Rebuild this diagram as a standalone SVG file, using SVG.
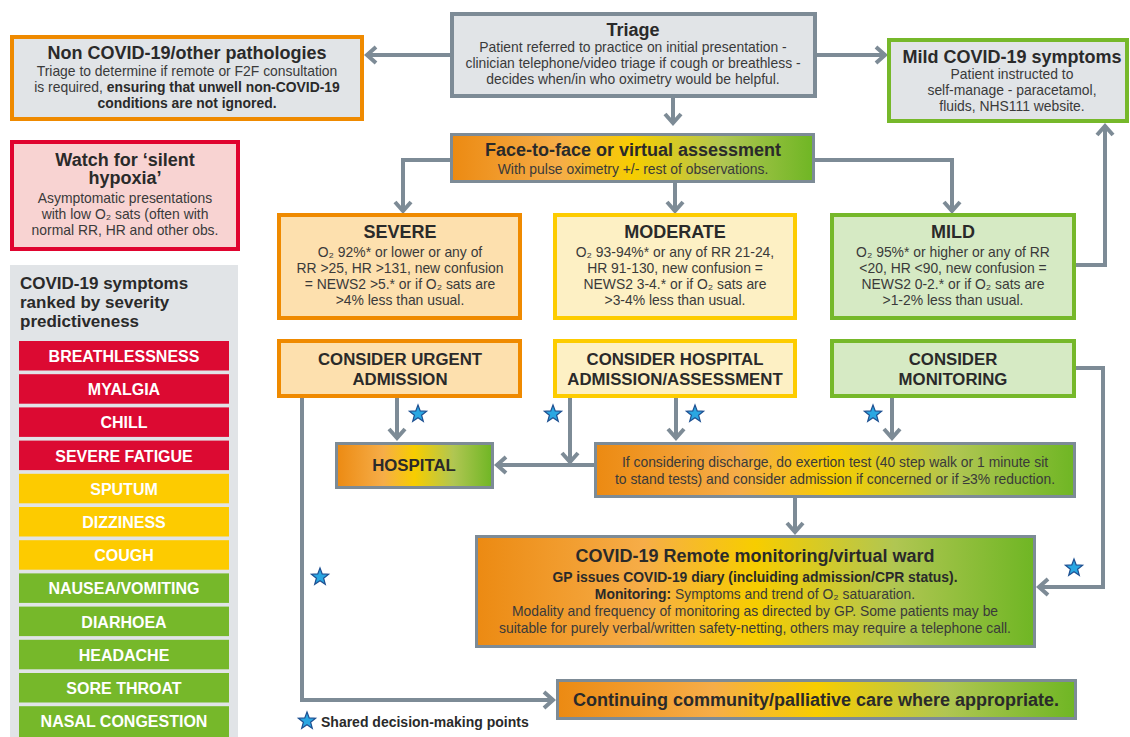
<svg xmlns="http://www.w3.org/2000/svg" width="1130" height="737" viewBox="0 0 1130 737">
<style>
text{font-family:"Liberation Sans",Arial,sans-serif;fill:#2a2a2a}
.t{font-weight:bold;font-size:18px;text-anchor:middle}
.b{font-size:13.9px;text-anchor:middle;fill:#3a3a3a}
.bb{font-weight:bold;fill:#2a2a2a}
.c{font-weight:bold;font-size:16.8px;text-anchor:middle}
.sym{font-weight:bold;font-size:16px;text-anchor:middle;fill:#fff}
.con{fill:none;stroke:#7d8b96;stroke-width:4;marker-end:url(#ah)}
.grey{fill:#e1e4e7;stroke:#7d8b96;stroke-width:4}
.or{fill:#fde0ae;stroke:#ef8a00;stroke-width:4}
.ye{fill:#fdf0c4;stroke:#fdcc00;stroke-width:4}
.gr{fill:#d6eac4;stroke:#76b82a;stroke-width:4}
.grad{fill:url(#g);stroke:#7d8b96;stroke-width:3}
.star{fill:#2aa7e2;stroke:#1d4f91;stroke-width:1.2}
</style>
<defs>
<linearGradient id="g" x1="0" y1="0" x2="1" y2="0">
<stop offset="0" stop-color="#ec8a12"/>
<stop offset="0.3" stop-color="#f6ad48"/>
<stop offset="0.5" stop-color="#f7cd00"/>
<stop offset="0.75" stop-color="#b0c652"/>
<stop offset="1" stop-color="#6fb624"/>
</linearGradient>
<marker id="ah" markerWidth="18" markerHeight="20" refX="13" refY="10" orient="auto" markerUnits="userSpaceOnUse">
<path d="M4,2 L13,10 L4,18" fill="none" stroke="#7d8b96" stroke-width="4"/>
</marker>
<path id="st" d="M0,-9 L2.23,-3.07 L8.56,-2.78 L3.61,1.17 L5.29,7.28 L0,3.8 L-5.29,7.28 L-3.61,1.17 L-8.56,-2.78 L-2.23,-3.07 Z"/>
</defs>

<g id="connectors">
<path class="con" d="M450,55 H367"/>
<path class="con" d="M817,55 H885"/>
<path class="con" d="M673,98 V123"/>
<path class="con" d="M450,160 H403 V211"/>
<path class="con" d="M675,182 V211"/>
<path class="con" d="M815,160 H952 V211"/>
<path class="con" d="M1075,265 H1105 V126"/>
<path class="con" d="M397,398 V438"/>
<path class="con" d="M302,398 V700 H553"/>
<path class="con" d="M570,398 V462"/>
<path class="con" d="M676,398 V438"/>
<path class="con" d="M594,465 H497"/>
<path class="con" d="M892,398 V438"/>
<path class="con" d="M1076,368 H1103 V587 H1039"/>
<path class="con" d="M795,498 V532"/>
</g>

<g id="non-covid">
<rect class="grey" x="12" y="37" width="350" height="82" style="stroke:#ef8a00"/>
<text class="t" x="187" y="59">Non COVID-19/other pathologies</text>
<text class="b" x="187" y="76">Triage to determine if remote or F2F consultation</text>
<text class="b" x="187" y="92">is required, <tspan class="bb">ensuring that unwell non-COVID-19</tspan></text>
<text class="b bb" x="187" y="108">conditions are not ignored.</text>
</g>

<g id="triage">
<rect class="grey" x="452" y="14" width="363" height="82"/>
<text class="t" x="633" y="36">Triage</text>
<text class="b" x="633" y="52">Patient referred to practice on initial presentation -</text>
<text class="b" x="633" y="68">clinician telephone/video triage if cough or breathless -</text>
<text class="b" x="633" y="84">decides when/in who oximetry would be helpful.</text>
</g>

<g id="mild-covid">
<rect class="grey" x="889" y="40" width="238" height="81" style="stroke:#76b82a"/>
<text class="t" x="1012" y="63">Mild COVID-19 symptoms</text>
<text class="b" x="1012" y="79">Patient instructed to</text>
<text class="b" x="1012" y="95">self-manage - paracetamol,</text>
<text class="b" x="1012" y="111">fluids, NHS111 website.</text>
</g>

<g id="silent-hypoxia">
<rect x="12" y="142" width="226" height="107" fill="#f8d3d2" stroke="#e0042f" stroke-width="4"/>
<text class="t" x="125" y="166">Watch for ‘silent</text>
<text class="t" x="125" y="184">hypoxia’</text>
<text class="b" x="125" y="203">Asymptomatic presentations</text>
<text class="b" x="125" y="219">with low O₂ sats (often with</text>
<text class="b" x="125" y="235">normal RR, HR and other obs.</text>
</g>

<g id="symptoms">
<rect x="10" y="265" width="228" height="472" fill="#e1e4e7"/>
<text x="20" y="289" style="font-weight:bold;font-size:17px">COVID-19 symptoms</text>
<text x="20" y="308" style="font-weight:bold;font-size:17px">ranked by severity</text>
<text x="20" y="327" style="font-weight:bold;font-size:17px">predictiveness</text>
<rect x="19" y="341" width="210" height="29.5" fill="#dc0a32"/><text class="sym" x="124" y="362">BREATHLESSNESS</text>
<rect x="19" y="374.2" width="210" height="29.5" fill="#dc0a32"/><text class="sym" x="124" y="395.2">MYALGIA</text>
<rect x="19" y="407.4" width="210" height="29.5" fill="#dc0a32"/><text class="sym" x="124" y="428.4">CHILL</text>
<rect x="19" y="440.6" width="210" height="29.5" fill="#dc0a32"/><text class="sym" x="124" y="461.6">SEVERE FATIGUE</text>
<rect x="19" y="473.8" width="210" height="29.5" fill="#fdcb00"/><text class="sym" x="124" y="494.8">SPUTUM</text>
<rect x="19" y="507" width="210" height="29.5" fill="#fdcb00"/><text class="sym" x="124" y="528">DIZZINESS</text>
<rect x="19" y="540.2" width="210" height="29.5" fill="#fdcb00"/><text class="sym" x="124" y="561.2">COUGH</text>
<rect x="19" y="573.4" width="210" height="29.5" fill="#76b82a"/><text class="sym" x="124" y="594.4">NAUSEA/VOMITING</text>
<rect x="19" y="606.6" width="210" height="29.5" fill="#76b82a"/><text class="sym" x="124" y="627.6">DIARHOEA</text>
<rect x="19" y="639.8" width="210" height="29.5" fill="#76b82a"/><text class="sym" x="124" y="660.8">HEADACHE</text>
<rect x="19" y="673" width="210" height="29.5" fill="#76b82a"/><text class="sym" x="124" y="694">SORE THROAT</text>
<rect x="19" y="706.2" width="210" height="31" fill="#76b82a"/><text class="sym" x="124" y="727.2">NASAL CONGESTION</text>
</g>

<g id="assessment">
<rect class="grad" x="451.5" y="134.5" width="362" height="47"/>
<text class="t" x="633" y="156">Face-to-face or virtual assessment</text>
<text class="b" x="633" y="174">With pulse oximetry +/- rest of observations.</text>
</g>

<g id="severe">
<rect class="or" x="279" y="215" width="241" height="103"/>
<text class="t" x="400" y="238">SEVERE</text>
<text class="b" x="400" y="257">O₂ 92%* or lower or any of</text>
<text class="b" x="400" y="273">RR &gt;25, HR &gt;131, new confusion</text>
<text class="b" x="400" y="289">= NEWS2 &gt;5.* or if O₂ sats are</text>
<text class="b" x="400" y="305">&gt;4% less than usual.</text>
</g>

<g id="moderate">
<rect class="ye" x="555" y="215" width="240" height="103"/>
<text class="t" x="675" y="238">MODERATE</text>
<text class="b" x="675" y="257">O₂ 93-94%* or any of RR 21-24,</text>
<text class="b" x="675" y="273">HR 91-130, new confusion =</text>
<text class="b" x="675" y="289">NEWS2 3-4.* or if O₂ sats are</text>
<text class="b" x="675" y="305">&gt;3-4% less than usual.</text>
</g>

<g id="mild">
<rect class="gr" x="832" y="215" width="242" height="103"/>
<text class="t" x="953" y="238">MILD</text>
<text class="b" x="953" y="257">O₂ 95%* or higher or any of RR</text>
<text class="b" x="953" y="273">&lt;20, HR &lt;90, new confusion =</text>
<text class="b" x="953" y="289">NEWS2 0-2.* or if O₂ sats are</text>
<text class="b" x="953" y="305">&gt;1-2% less than usual.</text>
</g>

<g id="urgent-admission">
<rect class="or" x="279" y="341" width="241" height="55"/>
<text class="c" x="400" y="365">CONSIDER URGENT</text>
<text class="c" x="400" y="385">ADMISSION</text>
</g>

<g id="hospital-admission">
<rect class="ye" x="555" y="341" width="240" height="55"/>
<text class="c" x="675" y="365">CONSIDER HOSPITAL</text>
<text class="c" x="675" y="385">ADMISSION/ASSESSMENT</text>
</g>

<g id="monitoring">
<rect class="gr" x="832" y="341" width="242" height="55"/>
<text class="c" x="953" y="365">CONSIDER</text>
<text class="c" x="953" y="385">MONITORING</text>
</g>

<g id="hospital">
<rect class="grad" x="336.5" y="443.5" width="156" height="44"/>
<text class="c" x="414" y="471">HOSPITAL</text>
</g>

<g id="exertion">
<rect class="grad" x="595.5" y="443.5" width="479" height="53"/>
<text class="b" x="835" y="467">If considering discharge, do exertion test (40 step walk or 1 minute sit</text>
<text class="b" x="835" y="484">to stand tests) and consider admission if concerned or if ≥3% reduction.</text>
</g>

<g id="remote">
<rect class="grad" x="476.5" y="536.5" width="558" height="110"/>
<text class="t" x="755" y="562">COVID-19 Remote monitoring/virtual ward</text>
<text class="b bb" x="755" y="582">GP issues COVID-19 diary (incluiding admission/CPR status).</text>
<text class="b" x="755" y="599"><tspan class="bb">Monitoring:</tspan> Symptoms and trend of O₂ satuaration.</text>
<text class="b" x="755" y="616">Modality and frequency of monitoring as directed by GP. Some patients may be</text>
<text class="b" x="755" y="633">suitable for purely verbal/written safety-netting, others may require a telephone call.</text>
</g>

<g id="continuing">
<rect class="grad" x="557.5" y="680.5" width="518" height="38"/>
<text class="t" x="816" y="706">Continuing community/palliative care where appropriate.</text>
</g>

<g id="stars">
<use href="#st" class="star" x="418" y="414"/>
<use href="#st" class="star" x="553" y="414"/>
<use href="#st" class="star" x="695" y="414"/>
<use href="#st" class="star" x="873" y="414"/>
<use href="#st" class="star" x="320" y="577"/>
<use href="#st" class="star" x="1074" y="568"/>
</g>

<g id="legend">
<use href="#st" class="star" x="307" y="721"/>
<text x="321" y="727" style="font-weight:bold;font-size:14px">Shared decision-making points</text>
</g>
</svg>
